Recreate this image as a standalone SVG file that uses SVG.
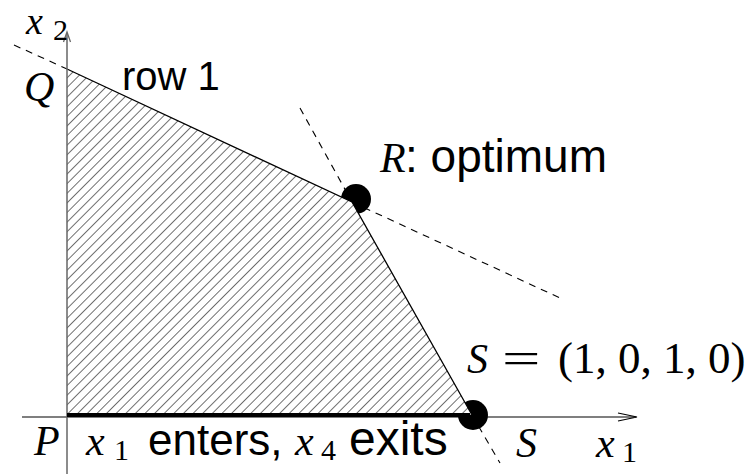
<svg xmlns="http://www.w3.org/2000/svg" width="749" height="474" viewBox="0 0 749 474">
<style>
.math{font-family:"Liberation Serif","Times New Roman",serif;font-style:italic;fill:#000}
.num{font-family:"Liberation Serif","Times New Roman",serif;font-style:normal;fill:#000}
.sans{font-family:"Liberation Sans",Arial,sans-serif;fill:#000}
.dash{stroke:#000;stroke-width:1.1;stroke-dasharray:7 6;fill:none}
.edge{stroke:#000;stroke-width:1.3;fill:none}
</style>
<defs>
<pattern id="hatch" patternUnits="userSpaceOnUse" width="6.8" height="6.8" patternTransform="rotate(45)">
<rect width="6.8" height="6.8" fill="#fff"/>
<line x1="0" y1="0" x2="0" y2="6.8" stroke="#333" stroke-width="1.4"/>
</pattern>
</defs>
<rect width="749" height="474" fill="#fff"/>
<g id="points">
<circle id="dotR" cx="356" cy="199" r="15" fill="#000"/>
<circle id="dotS" cx="473" cy="415" r="15" fill="#000"/>
</g>
<g id="region">
<polygon points="67,69 352,202 472,415 67,415" fill="url(#hatch)" stroke="none"/>
<polyline class="edge" points="67,69 352,202 472,415"/>
</g>
<g id="connectors">
<line class="dash" x1="14" y1="45" x2="67" y2="69"/>
<line class="dash" x1="352" y1="202" x2="560" y2="298"/>
<line class="dash" x1="300" y1="108" x2="352" y2="202"/>
<line class="dash" x1="472" y1="415" x2="500" y2="463"/>
</g>
<g id="axes">
<line x1="22" y1="417" x2="636" y2="417" stroke="#000" stroke-width="1.2"/>
<polyline points="618,413 637,417 618,421" fill="none" stroke="#000" stroke-width="1.2"/>
<line x1="67" y1="474" x2="67" y2="33" stroke="#666" stroke-width="1.5"/>
<polyline points="63.5,42 67,32 70.5,42" fill="none" stroke="#666" stroke-width="1.3"/>
<line id="edgePS" x1="67" y1="415" x2="470" y2="415" stroke="#000" stroke-width="4"/>
</g>
<g id="labels">
<text class="math" x="26" y="34" font-size="38">x</text>
<text class="num" x="53" y="40" font-size="30">2</text>
<text class="math" x="24" y="101" font-size="42">Q</text>
<text class="sans" x="122" y="90" font-size="40">row 1</text>
<text class="math" x="380" y="172" font-size="42">R</text>
<text class="sans" x="405" y="172" font-size="46">: optimum</text>
<text class="math" x="467" y="373" font-size="42">S</text>
<text class="num" transform="translate(502,373) scale(1.55,1)" font-size="44">=</text>
<text class="num" x="558" y="373" font-size="45">(1, 0, 1, 0)</text>
<text class="math" x="34" y="455" font-size="42">P</text>
<text class="math" x="86" y="455" font-size="42">x</text>
<text class="num" x="114" y="460" font-size="30">1</text>
<text class="sans" x="148" y="455" font-size="44">enters,</text>
<text class="math" x="295" y="455" font-size="42">x</text>
<text class="num" x="321" y="460" font-size="30">4</text>
<text class="sans" x="349" y="455" font-size="48">exits</text>
<text class="math" x="516" y="457" font-size="42">S</text>
<text class="math" x="596" y="457" font-size="42">x</text>
<text class="num" x="622" y="462" font-size="30">1</text>
</g>
</svg>
